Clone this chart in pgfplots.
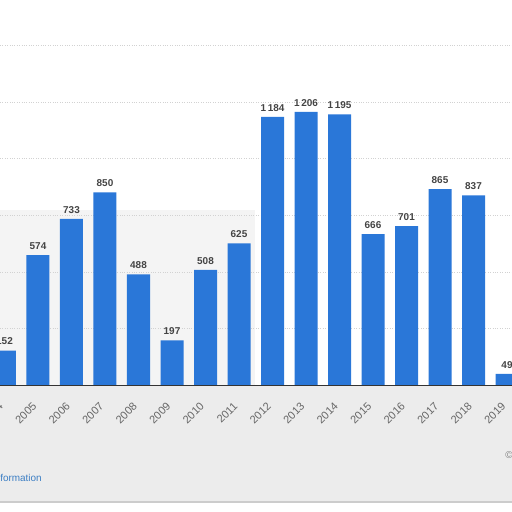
\documentclass[border=0pt]{standalone}
\usepackage{pgfplots}
\pgfplotsset{compat=1.18}
\usepackage{fontspec}
\setmainfont{Liberation Sans}
\definecolor{barblue}{HTML}{2A77D8}
\definecolor{lblgray}{HTML}{444444}
\definecolor{tickgray}{HTML}{666666}
\definecolor{linkblue}{HTML}{3D7FC4}
\begin{document}
\begin{tikzpicture}
\useasboundingbox (0bp,-127bp) rectangle (512bp,385bp);
\fill[gray!15] (0bp,-117bp) rectangle (512bp,0bp);
\fill[gray!9] (0bp,0bp) rectangle (255bp,175bp);
\draw[gray!40, line width=1.5bp] (0bp,-117bp) -- (512bp,-117bp);
\begin{axis}[
  at={(0bp,0bp)}, anchor=south west,
  scale only axis, width=512bp, height=385bp,
  xmin=2003.8657, xmax=2019.1493,
  ymin=0, ymax=1700,
  axis line style={draw=none},
  axis x line*=bottom,
  ytick={250,500,750,1000,1250,1500},
  yticklabels={},
  major tick length=0pt,
  ymajorgrids,
  grid style={gray!35, dotted},
  xtick={2004,...,2019},
  xticklabels={2004,2005,2006,2007,2008,2009,2010,2011,2012,2013,2014,2015,2016,2017,2018,2019},
  xticklabel style={xshift=-1bp, yshift=-17bp, rotate=45, anchor=east, font=\fontsize{11}{12}\selectfont, text=tickgray},
  ybar, bar width=23bp,
  nodes near coords,
  every node near coord/.append style={font=\fontsize{10}{12}\selectfont\bfseries, text=lblgray, yshift=2bp},
  /pgf/number format/assume math mode=true,
  /pgf/number format/1000 sep={\,},
  clip=false,
]
\addplot[fill=barblue, draw=none] coordinates {
(2004,152) (2005,574) (2006,733) (2007,850) (2008,488) (2009,197)
(2010,508) (2011,625) (2012,1184) (2013,1206) (2014,1195) (2015,666)
(2016,701) (2017,865) (2018,837) (2019,49)};
\draw[black!80, line width=0.8bp] (rel axis cs:0,0) -- (rel axis cs:1,0);
\end{axis}
\node[anchor=east, text=linkblue, font=\fontsize{10}{12}\selectfont, inner sep=0pt] at (42bp,-93bp) {Additional Information};
\node[anchor=center, text=gray, font=\fontsize{10}{12}\selectfont, inner sep=0pt] at (509bp,-70bp) {©};
\end{tikzpicture}
\end{document}
